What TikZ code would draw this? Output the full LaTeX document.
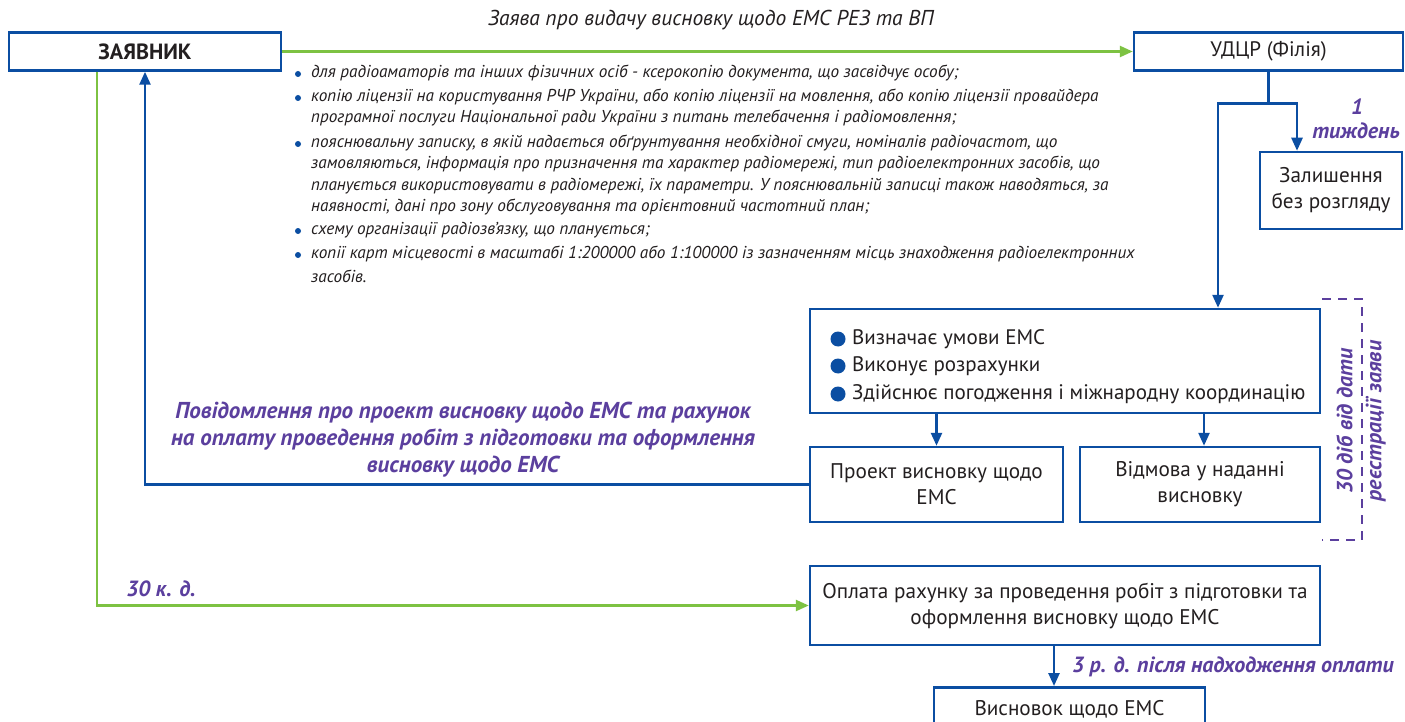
\documentclass[tikz,border=0pt]{standalone}
\usepackage{fontspec}
\setmainfont{PT Sans}
\usetikzlibrary{arrows.meta,calc}
\definecolor{bl}{HTML}{0B4EA2}
\definecolor{gr}{HTML}{7DC242}
\definecolor{pu}{HTML}{5B3F9E}
\definecolor{tx}{HTML}{231F20}
\begin{document}
\begin{tikzpicture}[x=1pt,y=-1pt,
  box/.style={draw=bl, line width=2.5pt, fill=white, text=tx, font=\fontsize{21.2}{26}\selectfont, align=center, inner sep=0pt},
  barrow/.style={draw=bl, line width=2.5pt, -{Triangle[width=11pt,length=13pt]}},
  garrow/.style={draw=gr, line width=2.5pt, -{Triangle[width=11pt,length=13pt]}},
  lbl/.style={text=pu, font=\fontsize{22}{27}\selectfont\bfseries\itshape, inner sep=0pt},
  itl/.style={text=tx, font=\fontsize{17.2}{21}\selectfont\itshape, inner sep=0pt, anchor=west},
  sdot/.style={circle, fill=bl, inner sep=0pt, minimum size=6pt},
  bdot/.style={circle, fill=bl, inner sep=0pt, minimum size=15pt},
  btxt/.style={text=tx, font=\fontsize{21}{26}\selectfont, inner sep=0pt, anchor=west}]
\useasboundingbox (0,0) rectangle (1405,722);
\clip (0,0) rectangle (1405,722);
\fill[white] (0,0) rectangle (1405,722);

% boxes
\node[box, minimum width=272pt, minimum height=38pt, font=\fontsize{22}{26}\selectfont\bfseries] (zayav) at (145,51.5) {ЗАЯВНИК};
\node[box, minimum width=269pt, minimum height=38pt, font=\fontsize{21}{26}\selectfont] (udcr) at (1268.5,51.5) {УДЦР (Філія)};
\node[box, minimum width=142pt, minimum height=77pt] (zal) at (1331,190.5) {Залишення\\без розгляду};
\node[box, minimum width=510pt, minimum height=104pt] (big) at (1065,361) {};
\node[box, minimum width=253pt, minimum height=75pt] (proekt) at (936.5,484.5) {Проект висновку щодо\\ЕМС};
\node[box, minimum width=240pt, minimum height=75pt] (vidmova) at (1200,484.5) {Відмова у наданні\\висновку};
\node[box, minimum width=510pt, minimum height=79pt] (oplata) at (1065,605.5) {Оплата рахунку за проведення робіт з підготовки та\\оформлення висновку щодо ЕМС};
\node[box, minimum width=271pt, minimum height=60pt, anchor=north] (vysn) at (1069.5,686) {};
\node[text=tx, font=\fontsize{21.2}{26}\selectfont, inner sep=0pt] (vysnt) at (1069.5,709) {Висновок щодо ЕМС};

% big box bullets
\node[bdot] (d1) at (838,339) {};
\node[bdot] (d2) at (838,366) {};
\node[bdot] (d3) at (838,394) {};
\node[btxt] (t1) at (852,339) {Визначає умови ЕМС};
\node[btxt] (t2) at (852,366) {Виконує розрахунки};
\node[btxt] (t3) at (852,394) {Здійснює погодження і міжнародну координацію};

% title
\node[text=tx, font=\fontsize{21.5}{24}\selectfont\itshape, inner sep=0pt] (title) at (711,20) {Заява про видачу висновку щодо ЕМС РЕЗ та ВП};

% bullet list
\node[sdot] (s1) at (298,74) {};
\node[sdot] (s2) at (298,98) {};
\node[sdot] (s3) at (298,144) {};
\node[sdot] (s4) at (298,231) {};
\node[sdot] (s5) at (298,255) {};
\node[itl] (l1) at (311,73) {для радіоаматорів та інших фізичних осіб - ксерокопію документа, що засвідчує особу;};
\node[itl] (l2) at (311,97) {копію ліцензії на користування РЧР України, або копію ліцензії на мовлення, або копію ліцензії провайдера};
\node[itl] (l3) at (311,118) {програмної послуги Національної ради України з питань телебачення і радіомовлення;};
\node[itl] (l4) at (311,143) {пояснювальну записку, в якій надається обґрунтування необхідної смуги, номіналів радіочастот, що};
\node[itl] (l5) at (311,164) {замовляються, інформація про призначення та характер радіомережі, тип радіоелектронних засобів, що};
\node[itl] (l6) at (311,186) {планується використовувати в радіомережі, їх параметри. У пояснювальній записці також наводяться, за};
\node[itl] (l7) at (311,207) {наявності, дані про зону обслуговування та орієнтовний частотний план;};
\node[itl] (l8) at (311,230) {схему організації радіозв'язку, що планується;};
\node[itl] (l9) at (311,254) {копії карт місцевості в масштабі 1:200000 або 1:100000 із зазначенням місць знаходження радіоелектронних};
\node[itl] (l10) at (311,276) {засобів.};

% purple labels
\node[lbl] (tyzh1) at (1357,107) {1};
\node[lbl] (tyzh2) at (1356,131) {тиждень};
\node[lbl, align=center, font=\fontsize{23}{27}\selectfont\bfseries\itshape] (povid) at (463,440) {Повідомлення про проект висновку щодо ЕМС та рахунок\\на оплату проведення робіт з підготовки та оформлення\\висновку щодо ЕМС};
\node[lbl] (kd) at (161,589) {30 к. д.};
\node[lbl] (rd) at (1233,667) {3 р. д. після надходження оплати};
\node[lbl, rotate=90, align=center, font=\fontsize{22}{29}\selectfont\bfseries\itshape] (dib) at (1361,421) {30 діб від дати\\реєстрації заяви};

% dashed bracket
\coordinate (br1) at (1322,299);
\coordinate (br2) at (1362,540);
\draw[pu, line width=2.5pt, dash pattern=on 9pt off 7pt] (br1) -| (br2) -- ([xshift=-40pt]br2);

% connectors
\draw[garrow] (zayav.east) -- (udcr.west);
\draw[garrow] ([xshift=-48pt]zayav.south) |- (oplata.west);
\draw[barrow] (proekt.west) -| (zayav.south);
\draw[barrow] (udcr.south) -- ++(0,32) -| ([xshift=-34pt]zal.north);
\draw[barrow] (udcr.south) -- ++(0,32) -| ([xshift=153pt]big.north);
\draw[barrow] (big.south -| proekt.north) -- (proekt.north);
\draw[barrow] ([xshift=4pt]big.south -| vidmova.north) -- ([xshift=4pt]vidmova.north);
\draw[barrow] ([xshift=-11pt]oplata.south) -- ([xshift=-15.5pt]vysn.north);
\end{tikzpicture}
\end{document}
